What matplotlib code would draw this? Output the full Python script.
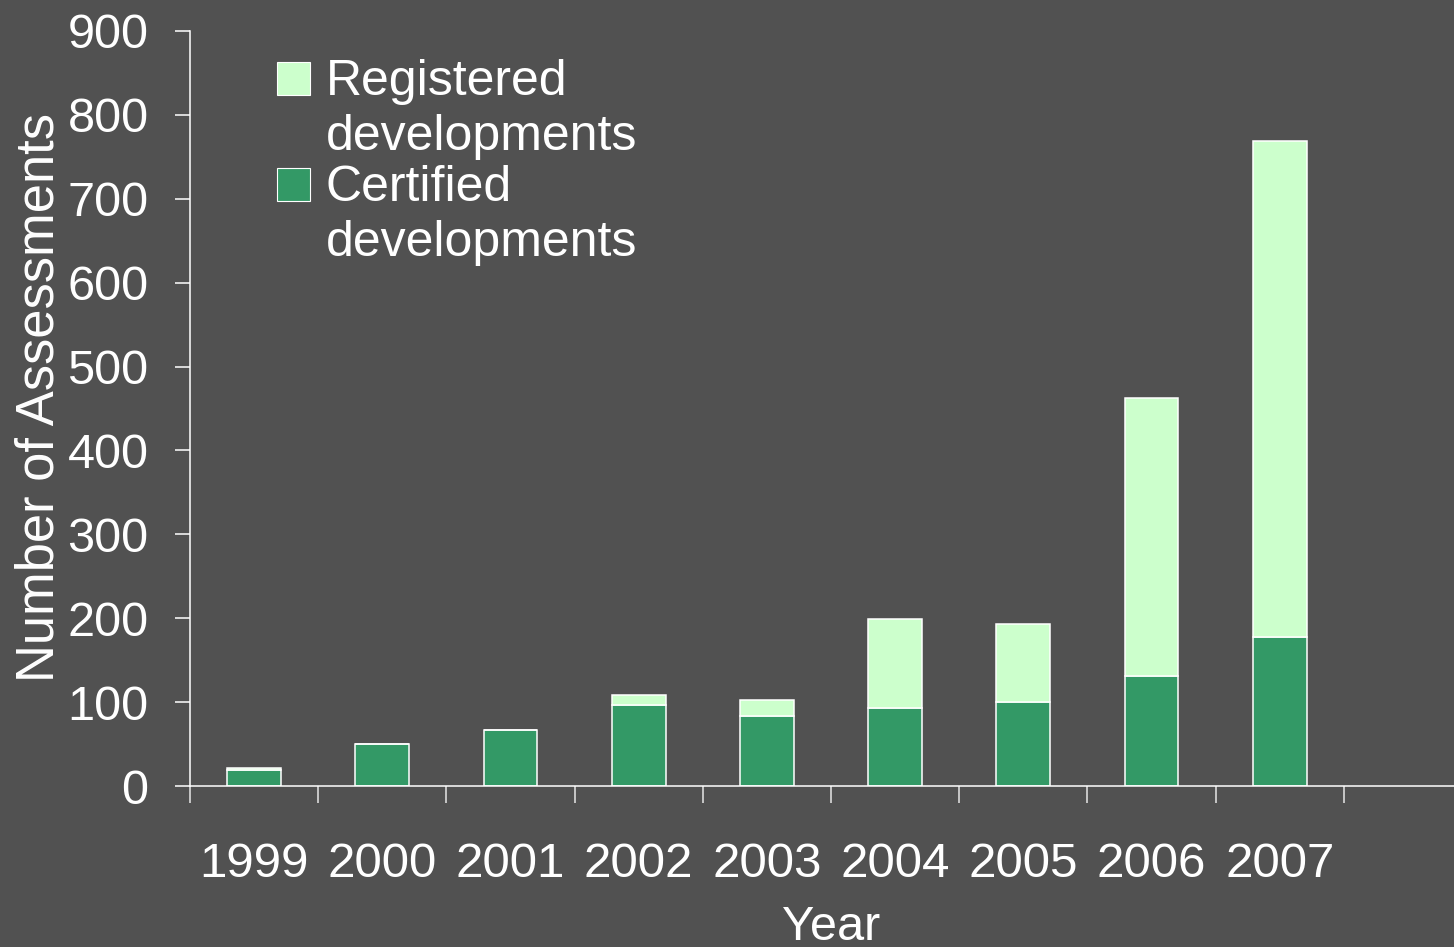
import numpy as np
import matplotlib
matplotlib.use("Agg")
import matplotlib.pyplot as plt
from matplotlib.patches import Rectangle

plt.rcParams['font.family'] = ['Liberation Sans', 'DejaVu Sans']

years = ['1999', '2000', '2001', '2002', '2003', '2004', '2005', '2006', '2007']
certified = [19, 50, 67, 96, 84, 93, 100, 131, 178]
registered = [3, 0, 0, 12, 19, 106, 93, 331, 591]

bg = '#515151'
c_cert = '#339966'
c_reg = '#ccffcc'

fig = plt.figure(figsize=(14.54, 9.47), dpi=100)
fig.patch.set_facecolor(bg)
# axes runs past the right edge (an empty 10th slot)
ax = fig.add_axes([190 / 1454, 161 / 947, 1282 / 1454, 755 / 947])
ax.set_facecolor(bg)

x = np.arange(len(years))
ax.bar(x, certified, width=0.42, color=c_cert, edgecolor='white', linewidth=1.1)
ax.bar(x, registered, width=0.42, bottom=certified, color=c_reg,
       edgecolor='white', linewidth=1.1)

ax.set_xlim(-0.5, 9.5)
ax.set_ylim(0, 900)
ax.set_yticks(np.arange(0, 901, 100))
ax.set_xticks(x)
ax.set_xticklabels(years)
ax.set_xticks(np.arange(-0.5, 10, 1), minor=True)

for s in ['top', 'right']:
    ax.spines[s].set_visible(False)
for s in ['left', 'bottom']:
    ax.spines[s].set_color('white')
    ax.spines[s].set_linewidth(1.1)

ax.tick_params(axis='y', colors='white', labelsize=35, length=10.8, width=1.1, pad=19)
ax.tick_params(axis='x', which='major', colors='white', labelsize=35.5, length=0, pad=40)
ax.tick_params(axis='x', which='minor', colors='#e6e6e6', length=12.2, width=1.1)

ax.set_ylabel('Number of Assessments', color='white', fontsize=37.8)
ax.yaxis.set_label_coords(-0.098, 0.515)
ax.set_xlabel('Year', color='white', fontsize=35, va='top')
ax.xaxis.set_label_coords(0.5, -0.157)

# legend drawn by hand: handle sits beside the first line of each label
for y0, col, label, base in [(852, c_reg, 'Registered\ndevelopments', 797),
                             (746, c_cert, 'Certified\ndevelopments', 691)]:
    fig.patches.append(Rectangle((277 / 1454, y0 / 947), 33 / 1454, 33 / 947,
                                 transform=fig.transFigure, facecolor=col,
                                 edgecolor='white', linewidth=0.8))
    fig.text(326 / 1454, base / 947, label, color='white', fontsize=36,
             va='baseline', ha='left', linespacing=1.25)

fig.savefig('out.png', dpi=100, facecolor=bg)
